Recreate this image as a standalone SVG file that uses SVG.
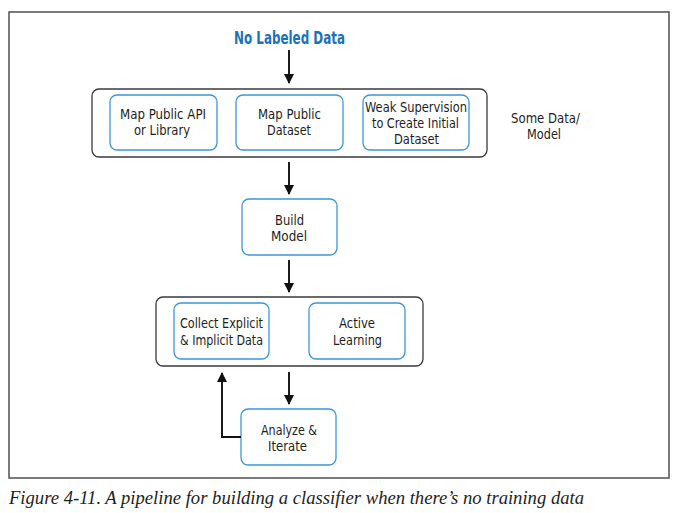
<svg xmlns="http://www.w3.org/2000/svg" width="680" height="513" viewBox="0 0 680 513">
<style>
.frame{fill:none;stroke:#5a5a5a;stroke-width:1.6}
.grp{fill:#fff;stroke:#3a3a3a;stroke-width:1.3}
.box{fill:#fff;stroke:#3d97d6;stroke-width:1.3}
.t{font-family:"Liberation Sans Narrow","DejaVu Sans Condensed","Liberation Sans",sans-serif;font-size:14.5px;fill:#1e1e1e;text-anchor:middle}
.title{font-family:"Liberation Sans Narrow","DejaVu Sans Condensed","Liberation Sans",sans-serif;font-size:17px;font-weight:bold;fill:#1a72b8;text-anchor:middle}
.cap{font-family:"Liberation Serif",serif;font-style:italic;font-size:19px;fill:#1e1e1e}
.ln{fill:none;stroke:#111;stroke-width:1.9}
</style>
<defs>
<marker id="ah" markerWidth="10" markerHeight="10" refX="9" refY="5" orient="auto" markerUnits="userSpaceOnUse">
<path d="M0,0 L10,5 L0,10 Z" fill="#111"/>
</marker>
</defs>
<rect class="frame" x="9" y="12" width="660" height="466"/>
<text class="title" x="289.5" y="44" textLength="111" lengthAdjust="spacingAndGlyphs">No Labeled Data</text>
<g id="group-some-data">
<rect class="grp" x="92" y="89" width="395" height="68" rx="7"/>
</g>
<g id="map-api">
<rect class="box" x="110" y="95" width="107" height="55" rx="7"/>
<text class="t" x="163" y="119" textLength="86" lengthAdjust="spacingAndGlyphs">Map Public API</text>
<text class="t" x="162" y="135" textLength="56" lengthAdjust="spacingAndGlyphs">or Library</text>
</g>
<g id="map-dataset">
<rect class="box" x="236" y="95" width="107" height="55" rx="7"/>
<text class="t" x="289.5" y="119" textLength="63" lengthAdjust="spacingAndGlyphs">Map Public</text>
<text class="t" x="289" y="135" textLength="44" lengthAdjust="spacingAndGlyphs">Dataset</text>
</g>
<g id="weak-supervision">
<rect class="box" x="363" y="95" width="106" height="55" rx="7"/>
<text class="t" x="416" y="112" textLength="102" lengthAdjust="spacingAndGlyphs">Weak Supervision</text>
<text class="t" x="415.5" y="128" textLength="87" lengthAdjust="spacingAndGlyphs">to Create Initial</text>
<text class="t" x="416.5" y="144" textLength="45" lengthAdjust="spacingAndGlyphs">Dataset</text>
</g>
<g id="some-data-label">
<text class="t" x="545.5" y="123" textLength="69" lengthAdjust="spacingAndGlyphs">Some Data/</text>
<text class="t" x="544" y="139" textLength="34" lengthAdjust="spacingAndGlyphs">Model</text>
</g>
<g id="build-model">
<rect class="box" x="242" y="199" width="95" height="56" rx="7"/>
<text class="t" x="289.5" y="225" textLength="29" lengthAdjust="spacingAndGlyphs">Build</text>
<text class="t" x="289" y="241" textLength="36" lengthAdjust="spacingAndGlyphs">Model</text>
</g>
<g id="group-collect">
<rect class="grp" x="156" y="297" width="267" height="69" rx="7"/>
</g>
<g id="collect">
<rect class="box" x="174" y="303" width="95" height="56" rx="7"/>
<text class="t" x="221.5" y="328" textLength="83" lengthAdjust="spacingAndGlyphs">Collect Explicit</text>
<text class="t" x="221.5" y="345" textLength="83" lengthAdjust="spacingAndGlyphs">&amp; Implicit Data</text>
</g>
<g id="active-learning">
<rect class="box" x="309" y="303" width="96" height="56" rx="7"/>
<text class="t" x="357" y="328" textLength="36" lengthAdjust="spacingAndGlyphs">Active</text>
<text class="t" x="357.5" y="345" textLength="49" lengthAdjust="spacingAndGlyphs">Learning</text>
</g>
<g id="analyze">
<rect class="box" x="241" y="409" width="95" height="56" rx="7"/>
<text class="t" x="289" y="435" textLength="56" lengthAdjust="spacingAndGlyphs">Analyze &amp;</text>
<text class="t" x="287.5" y="451" textLength="39" lengthAdjust="spacingAndGlyphs">Iterate</text>
</g>
<g id="connectors">
<path class="ln" d="M289,50 V83" marker-end="url(#ah)"/>
<path class="ln" d="M289,162 V194" marker-end="url(#ah)"/>
<path class="ln" d="M289,260 V292" marker-end="url(#ah)"/>
<path class="ln" d="M289,372 V404" marker-end="url(#ah)"/>
<path class="ln" d="M241,437 H222 V373" marker-end="url(#ah)"/>
</g>
<text class="cap" x="9" y="504" textLength="575" lengthAdjust="spacingAndGlyphs">Figure 4-11. A pipeline for building a classifier when there’s no training data</text>
</svg>
